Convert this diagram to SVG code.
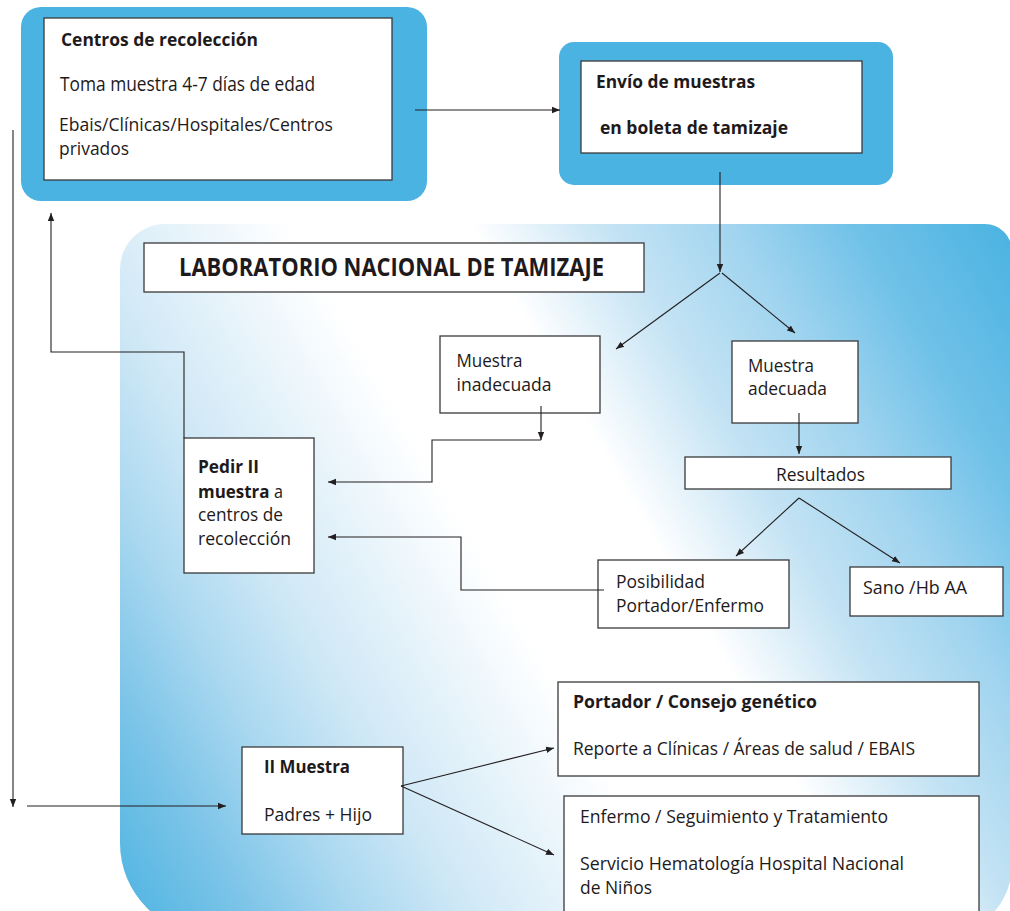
<svg xmlns="http://www.w3.org/2000/svg" width="1010" height="911" viewBox="0 0 1010 911">
<defs>
<linearGradient id="labGrad" gradientUnits="userSpaceOnUse" x1="82" y1="869" x2="1118" y2="266">
<stop offset="0" stop-color="#4ab3e1"/>
<stop offset="0.1" stop-color="#7cc4e8"/>
<stop offset="0.18" stop-color="#aad8f0"/>
<stop offset="0.26" stop-color="#cfe8f6"/>
<stop offset="0.42" stop-color="#ffffff"/>
<stop offset="0.55" stop-color="#ffffff"/>
<stop offset="0.65" stop-color="#c4e3f4"/>
<stop offset="0.74" stop-color="#a0d4ef"/>
<stop offset="0.83" stop-color="#6fc1e8"/>
<stop offset="0.94" stop-color="#4ab3e1"/>
<stop offset="1" stop-color="#4ab3e1"/>
</linearGradient>
<marker id="arr" markerUnits="userSpaceOnUse" markerWidth="9" markerHeight="8" refX="8" refY="4" orient="auto">
<path d="M0,0.8 L8,4 L0,7.2 Z" fill="#231f20"/>
</marker>
<style>
.blue{fill:#4bb3e2}
.box{fill:#ffffff;stroke:#3a3a3a;stroke-width:1.3}
.t{font-family:"Open Sans","Liberation Sans",Arial,sans-serif;font-size:18px;fill:#1e1a1b}
.b{font-weight:bold}
.big{font-size:20.5px}
.mid{font-size:19px}
.ttl{font-size:25px}
.c{fill:none;stroke:#231f20;stroke-width:1.1}
.a{marker-end:url(#arr)}
</style>
</defs>

<g id="lab-area">
<path d="M165,224 H985 A27,27 0 0 1 1012,251 V865 A70,70 0 0 1 942,935 H212 A92,92 0 0 1 120,843 V269 A45,45 0 0 1 165,224 Z" fill="url(#labGrad)"/>
</g>

<g id="centros">
<rect class="blue" x="21" y="7" width="406" height="194" rx="20"/>
<rect class="box" x="44" y="18" width="348" height="162"/>
<text class="t b" x="61" y="46" textLength="197" lengthAdjust="spacingAndGlyphs">Centros de recolección</text>
<text class="t big" x="60" y="91" textLength="255" lengthAdjust="spacingAndGlyphs">Toma muestra 4-7 días de edad</text>
<text class="t mid" x="59" y="131" textLength="274" lengthAdjust="spacingAndGlyphs">Ebais/Clínicas/Hospitales/Centros</text>
<text class="t mid" x="59" y="155" textLength="70" lengthAdjust="spacingAndGlyphs">privados</text>
</g>

<g id="envio">
<rect class="blue" x="559" y="42" width="334" height="143" rx="15"/>
<rect class="box" x="581" y="61" width="281" height="92"/>
<text class="t b" x="596" y="88" textLength="159" lengthAdjust="spacingAndGlyphs">Envío de muestras</text>
<text class="t b" x="600" y="134" textLength="188" lengthAdjust="spacingAndGlyphs">en boleta de tamizaje</text>
</g>

<g id="lab-title">
<rect class="box" x="144" y="243" width="500" height="49"/>
<text class="t b ttl" x="179" y="276" textLength="425" lengthAdjust="spacingAndGlyphs">LABORATORIO NACIONAL DE TAMIZAJE</text>
</g>

<g id="inadecuada">
<rect class="box" x="440" y="336" width="160" height="77"/>
<text class="t" x="456.5" y="367" textLength="66" lengthAdjust="spacingAndGlyphs">Muestra</text>
<text class="t" x="456.5" y="391" textLength="95" lengthAdjust="spacingAndGlyphs">inadecuada</text>
</g>

<g id="adecuada">
<rect class="box" x="732" y="341" width="126" height="82"/>
<text class="t" x="748" y="372" textLength="66" lengthAdjust="spacingAndGlyphs">Muestra</text>
<text class="t" x="748" y="395" textLength="79" lengthAdjust="spacingAndGlyphs">adecuada</text>
</g>

<g id="resultados">
<rect class="box" x="685" y="457" width="266" height="32"/>
<text class="t" x="776" y="481" textLength="89" lengthAdjust="spacingAndGlyphs">Resultados</text>
</g>

<g id="pedir">
<rect class="box" x="184" y="438" width="130" height="135"/>
<text class="t b" x="198" y="473" textLength="61" lengthAdjust="spacingAndGlyphs">Pedir II</text>
<text class="t b" x="198" y="498" textLength="71.5" lengthAdjust="spacingAndGlyphs">muestra</text>
<text class="t" x="274" y="498" textLength="9" lengthAdjust="spacingAndGlyphs">a</text>
<text class="t" x="198" y="521" textLength="85" lengthAdjust="spacingAndGlyphs">centros de</text>
<text class="t" x="198" y="545" textLength="93" lengthAdjust="spacingAndGlyphs">recolección</text>
</g>

<g id="posibilidad">
<rect class="box" x="598" y="560" width="191" height="68"/>
<text class="t" x="616" y="588" textLength="89" lengthAdjust="spacingAndGlyphs">Posibilidad</text>
<text class="t" x="616" y="612" textLength="148" lengthAdjust="spacingAndGlyphs">Portador/Enfermo</text>
</g>

<g id="sano">
<rect class="box" x="850" y="567" width="153" height="49"/>
<text class="t" x="863" y="594" textLength="104" lengthAdjust="spacingAndGlyphs">Sano /Hb AA</text>
</g>

<g id="segunda-muestra">
<rect class="box" x="242" y="747" width="161" height="87"/>
<text class="t b" x="264" y="773" textLength="86" lengthAdjust="spacingAndGlyphs">II Muestra</text>
<text class="t" x="264" y="821" textLength="108" lengthAdjust="spacingAndGlyphs">Padres + Hijo</text>
</g>

<g id="portador">
<rect class="box" x="558" y="682" width="421" height="94"/>
<text class="t b" x="573" y="708" textLength="244" lengthAdjust="spacingAndGlyphs">Portador / Consejo genético</text>
<text class="t" x="573" y="755" textLength="342" lengthAdjust="spacingAndGlyphs">Reporte a Clínicas / Áreas de salud / EBAIS</text>
</g>

<g id="enfermo">
<rect class="box" x="564" y="796" width="415" height="140"/>
<text class="t" x="580" y="823" textLength="308" lengthAdjust="spacingAndGlyphs">Enfermo / Seguimiento y Tratamiento</text>
<text class="t" x="580" y="870" textLength="324" lengthAdjust="spacingAndGlyphs">Servicio Hematología Hospital Nacional</text>
<text class="t" x="580" y="894" textLength="72" lengthAdjust="spacingAndGlyphs">de Niños</text>
</g>

<g id="connectors">
<path class="c a" d="M415,110 H560"/>
<path class="c a" d="M720,172 V272"/>
<path class="c a" d="M720,273 L616,349"/>
<path class="c a" d="M722,273 L795,333"/>
<path class="c a" d="M541,406 V440"/>
<path class="c a" d="M541,440 H432 V482 H328"/>
<path class="c a" d="M604,590 H461 V537 H328"/>
<path class="c a" d="M799,413 V454"/>
<path class="c a" d="M799,498 L736,556"/>
<path class="c a" d="M799,498 L900,563"/>
<path class="c a" d="M184,438 V352 H51 V213"/>
<path class="c a" d="M13,130 V807"/>
<path class="c a" d="M27,806 H226"/>
<path class="c a" d="M401,786 L554,748"/>
<path class="c a" d="M401,786 L554,855"/>
</g>
</svg>
